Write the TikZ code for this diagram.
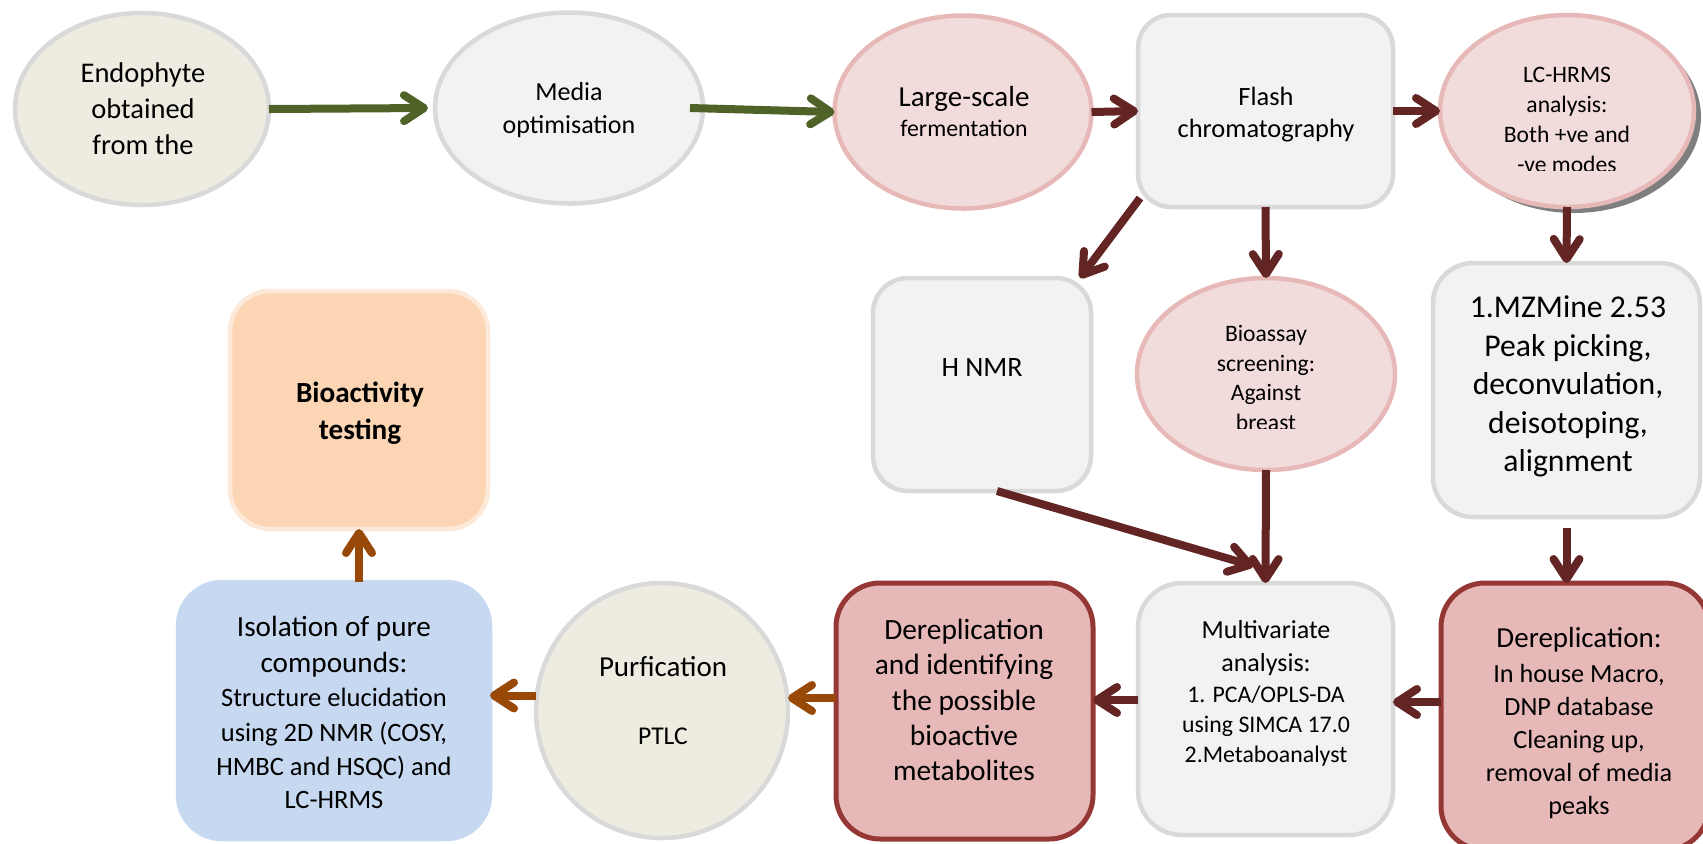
\documentclass[tikz,border=0pt]{standalone}
\usepackage{fontspec}
\setmainfont{Carlito}
\usetikzlibrary{arrows.meta,shapes.geometric,shadows}

\definecolor{cGreen}{HTML}{4F6228}
\definecolor{cRed}{HTML}{632523}
\definecolor{cBrown}{HTML}{984807}
\definecolor{cGrayB}{HTML}{D9D9D9}
\definecolor{cGrayF}{HTML}{F2F2F2}
\definecolor{cBeige}{HTML}{EEECE1}
\definecolor{cPinkF}{HTML}{F2DCDB}
\definecolor{cPinkB}{HTML}{E6B9B8}
\definecolor{cDerepB}{HTML}{953735}
\definecolor{cOrangeF}{HTML}{FCD5B5}
\definecolor{cOrangeB}{HTML}{FDE9D9}
\definecolor{cBlue}{HTML}{C6D9F1}

\newcommand\fsz[2]{\fontsize{#1}{#2}\selectfont}

\begin{document}
\begin{tikzpicture}[x=0.5pt,y=-0.5pt,
  shp/.style={inner sep=0pt, outer sep=0pt, line width=2.25pt},
  ell/.style={shp, ellipse},
  rbox/.style={shp, rectangle, rounded corners=#1},
  graybox/.style={draw=cGrayB, fill=cGrayF},
  pinkbox/.style={draw=cPinkB, fill=cPinkF},
  derepbox/.style={draw=cDerepB, fill=cPinkB, line width=2.5pt},
  txt/.style={align=center, inner sep=0pt},
  conn/.style={line width=4pt, -{Straight Barb[length=10pt,width=13pt,round]}}]

\useasboundingbox (0,0) rectangle (1703,843);
\clip (0,0) rectangle (1703,843);

% ---------- top row ----------
\node[ell, draw=cGrayB, fill=cBeige, minimum width=127pt, minimum height=96pt] (endo) at (142,109) {};
\node[txt, font=\fsz{14.25}{18}] (endoT) at (143,109) {Endophyte\\obtained\\from the};

\node[ell, graybox, minimum width=134pt, minimum height=95.5pt] (media) at (569,108) {};
\node[txt, font=\fsz{13}{16.5}] (mediaT) at (569,110.5) {Media\\optimisation};

\node[ell, pinkbox, minimum width=128.5pt, minimum height=96.5pt] (large) at (963,112) {};
\node[txt, font=\fsz{11.9}{15}] (largeT) at (964,112) {{\fsz{14.5}{15}Large-scale}\\fermentation};

\node[rbox=16.5pt, graybox, minimum width=127.5pt, minimum height=96pt] (flash) at (1265.5,111) {};
\node[txt, font=\fsz{13.2}{16}] (flashT) at (1266,115) {Flash\\chromatography};

\node[ell, pinkbox, minimum width=127pt, minimum height=96pt,
  drop shadow={shadow xshift=3.5pt, shadow yshift=-3pt, fill=black, opacity=0.5}] (lc) at (1567,111) {};
\begin{scope}
  \clip (1440,15) rectangle (1695,170);
  \node[txt, font=\fsz{11.8}{15}] (lcT) at (1567,119.5) {LC-HRMS\\analysis:\\Both +ve and\\-ve modes};
\end{scope}

% ---------- middle row ----------
\node[rbox=17.5pt, graybox, minimum width=109pt, minimum height=106.5pt] (hnmr) at (982,384.5) {};
\node[txt, font=\fsz{14}{17}] (hnmrT) at (982,368) {H NMR};

\node[ell, pinkbox, minimum width=129pt, minimum height=96pt] (bio) at (1266,374) {};
\begin{scope}
  \clip (1137,278) rectangle (1395,428);
  \node[txt, font=\fsz{11.8}{14.75}] (bioT) at (1266,378) {Bioassay\\screening:\\Against\\breast};
\end{scope}

\node[rbox=20pt, graybox, minimum width=133.5pt, minimum height=127pt] (mz) at (1566.5,390) {};
\node[txt, font=\fsz{15.85}{19.2}] (mzT) at (1568,386.5) {1.MZMine 2.53\\Peak picking,\\deconvulation,\\deisotoping,\\alignment};

\node[rbox=20pt, draw=cOrangeB, fill=cOrangeF, minimum width=129pt, minimum height=119pt] (bioact) at (359,410) {};
\node[txt, font=\fsz{14.6}{18.5}\bfseries] (bioactT) at (360,413) {Bioactivity\\testing};

% ---------- bottom row ----------
\node[rbox=22pt, draw=cBlue, fill=cBlue, minimum width=156pt, minimum height=128.5pt] (iso) at (334,710.5) {};
\node[txt, font=\fsz{13.25}{16.75}] (isoT) at (334,712.5) {{\fsz{14.6}{18}Isolation of pure}\\[1.25pt]{\fsz{14.6}{18}compounds:}\\[0.25pt]Structure elucidation\\[0.75pt]using 2D NMR (COSY,\\HMBC and HSQC) and\\LC-HRMS};

\node[ell, draw=cGrayB, fill=cBeige, minimum width=126pt, minimum height=127.5pt] (purf) at (662,710.5) {};
\node[txt, font=\fsz{12.8}{34.25}] (purfT) at (663,700.5) {{\fsz{14.5}{17}Purfication}\\PTLC};

\node[rbox=22pt, derepbox, minimum width=128.5pt, minimum height=128pt] (derep1) at (964.5,711) {};
\node[txt, font=\fsz{14.7}{17.65}] (derep1T) at (964,700) {Dereplication\\and identifying\\the possible\\bioactive\\metabolites};

\node[rbox=22pt, graybox, minimum width=127.5pt, minimum height=126pt] (multi) at (1265.5,709) {};
\node[txt, font=\fsz{11.9}{15}] (multiT) at (1266,693) {{\fsz{13}{15}Multivariate}\\[1.5pt]{\fsz{13}{15}analysis:}\\[0.5pt]1. PCA/OPLS-DA\\using SIMCA 17.0\\2.Metaboanalyst};

\node[rbox=22pt, derepbox, minimum width=134pt, minimum height=133.5pt] (derep2) at (1575,716.5) {};
\node[txt, font=\fsz{13.1}{16.5}] (derep2T) at (1579,723) {{\fsz{14.5}{16.5}Dereplication:}\\[0.75pt]In house Macro,\\DNP database\\Cleaning up,\\removal of media\\peaks};

% ---------- connectors ----------
\draw[conn, cGreen] (endo.east) -- ([xshift=-3.5pt]media.west);
\draw[conn, cGreen] ([xshift=-6.5pt]media.east) -- (large.west);
\draw[conn, cRed] (large.east) -- (flash.west);
\draw[conn, cRed] (flash.east) -- (lc.west);
\draw[conn, cRed] ([shift={(2,-9)}]flash.south west) -- ([xshift=-5.5pt]hnmr.north east);
\draw[conn, cRed] (flash.south) -- (bio.north);
\draw[conn, cRed] (lc.south) -- (mz.north);
\draw[conn, cRed] ([xshift=7.5pt]hnmr.south) -- ([shift={(-12,-17)}]multi.north);
\draw[conn, cRed] (bio.south) -- (multi.north);
\draw[conn, cRed] ([yshift=-5.5pt]mz.south) -- (derep2.north -| mz.south);
\coordinate (yA) at ([yshift=3.5pt]multi.east);
\draw[conn, cRed] (derep2.west |- yA) -- (yA);
\coordinate (yB) at ([yshift=4.5pt]multi.west);
\draw[conn, cRed] (yB) -- (derep1.east |- yB);
\coordinate (yC) at ([yshift=6.5pt]derep1.west);
\draw[conn, cBrown] (yC) -- (purf.east |- yC);
\coordinate (yD) at ([yshift=7.5pt]purf.west);
\draw[conn, cBrown] (yD) -- (iso.east |- yD);
\draw[conn, cBrown] (iso.north -| bioact.south) -- (bioact.south);

\end{tikzpicture}
\end{document}
